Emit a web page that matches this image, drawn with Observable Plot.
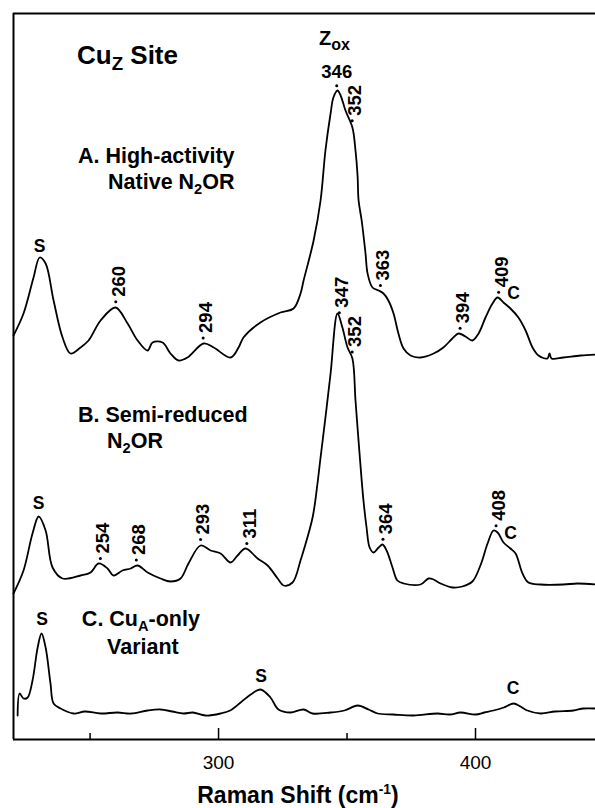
<!DOCTYPE html>
<html><head><meta charset="utf-8">
<script src="https://cdn.jsdelivr.net/npm/d3@7"></script>
<script src="https://cdn.jsdelivr.net/npm/@observablehq/plot@0.6"></script>
<style>body{margin:0;background:#fff} svg{display:block}</style>
</head><body><div id="chart"></div>
<script>
// ---- Data ----
// Raman shift (cm-1) and stacked intensity (a.u.) for each spectrum
const shiftA = [220.2,224.1,228.0,230.4,232.7,235.8,239.3,242.4,246.3,249.4,254.1,259.9,264.6,268.5,272.4,274.3,278.2,281.3,284.4,287.9,294.2,298.1,304.7,307.8,309.7,316.3,324.1,329.2,331.9,333.1,337.0,339.7,341.6,343.6,344.7,346.3,347.5,349.4,352.1,353.3,354.1,354.5,355.7,357.2,358.0,359.9,362.3,364.2,366.1,368.1,370.0,372.0,374.7,378.6,383.7,387.5,391.0,393.4,396.1,398.8,401.2,403.9,406.6,408.6,410.9,413.6,416.7,419.5,422.2,424.5,428.0,428.8,429.6,434.2,440.9,446.7];
const intensA = [404,426,462,482,476,439,402,386,392,399,419,432,416,399,389,397,397,386,379,382,396,392,382,392,402,417,427,431,446,459,499,539,589,626,642,649,644,629,612,589,564,539,519,486,466,452,449,446,439,426,406,391,384,382,386,392,401,406,403,399,406,422,436,442,437,431,422,409,392,384,381,386,381,382,384,385];

const shiftB = [220.2,224.1,227.6,230.0,232.7,235.4,239.3,246.3,250.2,253.3,256.8,259.1,262.6,265.8,268.5,272.4,277.4,281.3,285.2,288.3,293.0,296.9,300.8,304.7,307.4,310.5,315.2,319.1,323.0,325.3,328.8,331.9,333.1,336.6,338.5,339.7,341.6,343.6,346.3,348.2,350.2,352.1,353.3,354.9,356.4,357.6,358.8,360.3,362.3,363.8,365.4,367.7,369.6,372.0,378.6,381.7,383.7,386.4,391.1,394.9,398.8,401.9,404.7,407.0,408.6,410.9,413.6,415.6,418.3,420.6,425.3,434.2,439.7,446.7];
const intensB = [146,169,206,223,209,172,161,164,167,176,171,164,169,171,174,167,161,158,161,176,194,189,186,177,184,191,181,174,161,154,157,179,189,222,256,282,322,366,426,412,392,381,339,285,239,212,192,187,192,195,189,172,159,156,155,161,160,156,152,153,158,174,196,209,207,197,191,186,166,157,155,155,156,155];

const shiftC = [221.8,222.6,224.1,225.7,227.6,229.6,231.1,232.7,234.6,235.8,238.5,243.6,248.0,254.1,260.7,266.0,272.4,277.4,282.0,286.4,290.0,294.9,300.8,304.5,308.6,312.5,316.3,320.2,323.3,328.0,333.1,336.6,343.6,349.0,354.1,358.4,361.9,368.0,375.9,385.2,390.0,394.2,400.0,403.5,407.0,411.0,414.8,417.5,420.2,425.3,431.0,438.1,442.0,446.7];
const intensC = [24,46,41,42,59,92,106,92,56,36,31,26,28,26,27,26,29,30,28,26,27,24,26,29,37,45,50,42,30,27,30,26,27,29,34,30,26,25,24,26,25,27,25,27,29,32,36,33,29,26,28,29,31,31];

// Peak labels (rotated unless noted)
const peakTrace = ["A","A","A","A","A","A","A","B","B","B","B","B","B","B","B"];
const peakShift = [346,260,294,352,363,394,409,254,268,293,311,347,352,364,408];
const peakText  = ["346","260","294","352","363","394","409","254","268","293","311","347","352","364","408"];
const peakHoriz = [true,false,false,false,false,false,false,false,false,false,false,false,false,false,false];

// Band assignment letters (S = sulfur, C = cysteine)
const bandTrace = ["A","A","B","B","C","C","C"];
const bandShift = [230.4,414.8,230.0,413.6,231.3,316.6,414.6];
const bandText  = ["S","C","S","C","S","S","C"];
const bandLift  = [11,19,13,15,16,14,15];

const xTicksMajor = [300, 400];
const xTicksMinor = [250, 350];
const xDomain = [220.2, 446.7];

// ---- Build ----
const FONT = "'Liberation Sans', Arial, Helvetica, sans-serif";
const traces = {
  A: shiftA.map((x, i) => ({x, y: intensA[i]})),
  B: shiftB.map((x, i) => ({x, y: intensB[i]})),
  C: shiftC.map((x, i) => ({x, y: intensC[i]}))
};
function interp(data, x) {
  for (let i = 1; i < data.length; i++) {
    if (data[i].x >= x) {
      const a = data[i-1], b = data[i];
      const t = (x - a.x) / (b.x - a.x);
      return a.y + t * (b.y - a.y);
    }
  }
  return data[data.length-1].y;
}
const peaks = peakShift.map((x, i) => {
  const y = interp(traces[peakTrace[i]], x) + 6;
  return {x, y, text: peakText[i], horiz: peakHoriz[i]};
});
const bands = bandShift.map((x, i) => ({x, y: interp(traces[bandTrace[i]], x) + bandLift[i], text: bandText[i]}));

const lineOpts = {x: "x", y: "y", curve: "catmull-rom", stroke: "black", strokeWidth: 1.8};

const chart = Plot.plot({
  width: 595, height: 808,
  marginLeft: 13, marginRight: 0, marginTop: 13, marginBottom: 69,
  x: {domain: xDomain},
  y: {domain: [0, 726], axis: null},
  style: {fontFamily: FONT, color: "black", background: "white"},
  marks: [
    Plot.ruleY([0, 726], {stroke: "black", strokeWidth: 2}),
    Plot.ruleX([xDomain[0]], {stroke: "black", strokeWidth: 2}),
    Plot.ruleX(xTicksMajor, {y1: 0, y2: 11, stroke: "black", strokeWidth: 1.5}),
    Plot.ruleX(xTicksMinor, {y1: 0, y2: 6, stroke: "black", strokeWidth: 1.5}),
    Plot.axisX({ticks: xTicksMajor, tickSize: 0, tickPadding: 16, fontSize: 19, label: null, tickFormat: d => String(d)}),
    Plot.line(traces.A, lineOpts),
    Plot.line(traces.B, lineOpts),
    Plot.line(traces.C, lineOpts),
    Plot.dot(peaks, {x: "x", y: "y", r: 1.5, fill: "black", stroke: null}),
    Plot.text(peaks.filter(d => !d.horiz), {x: "x", y: "y", text: "text", rotate: -90, textAnchor: "start", dx: 3, dy: -5, fontSize: 18.5, fontWeight: "bold"}),
    Plot.text(peaks.filter(d => d.horiz), {x: "x", y: "y", text: "text", dy: -14, fontSize: 18.5, fontWeight: "bold"}),
    Plot.text(bands, {x: "x", y: "y", text: "text", fontSize: 17.5, fontWeight: "bold"})
  ]
});

// Rich text (subscripts / superscripts) placed through the plot's scales
const sx = chart.scale("x").apply, sy = chart.scale("y").apply;
function rich(x, y, parts, size, anchor = "start") {
  const t = d3.select(chart).append("text")
    .attr("x", sx(x)).attr("y", sy(y))
    .attr("font-family", FONT).attr("font-weight", "bold")
    .attr("font-size", size).attr("text-anchor", anchor).attr("fill", "black");
  let shift = 0;
  for (const p of parts) {
    const s = p.sub ? size * 0.24 : p.sup ? -size * 0.38 : 0;
    const ts = t.append("tspan").text(p.t).attr("dy", s - shift);
    if (p.sub || p.sup) ts.attr("font-size", size * (p.sz || 0.68));
    shift = s;
  }
}
rich(245.1, 675, [{t: "Cu"}, {t: "Z", sub: true, sz: 0.72}, {t: " Site"}], 26);
rich(345.3, 694, [{t: "Z"}, {t: "ox", sub: true, sz: 0.8}], 20, "middle");
rich(245.5, 576, [{t: "A. High-activity"}], 21.5);
rich(257.2, 550, [{t: "Native N"}, {t: "2", sub: true}, {t: "OR"}], 21.5);
rich(245.5, 317, [{t: "B. Semi-reduced"}], 21.5);
rich(256.8, 291, [{t: "N"}, {t: "2", sub: true}, {t: "OR"}], 21.5);
rich(247.0, 113, [{t: "C. Cu"}, {t: "A", sub: true}, {t: "-only"}], 21.5);
rich(256.8, 85, [{t: "Variant"}], 21.5);
rich(331.1, -64, [{t: "Raman Shift (cm"}, {t: "-1", sup: true, sz: 0.6}, {t: ")"}], 23, "middle");

document.getElementById("chart").appendChild(chart);
</script>
</body></html>
